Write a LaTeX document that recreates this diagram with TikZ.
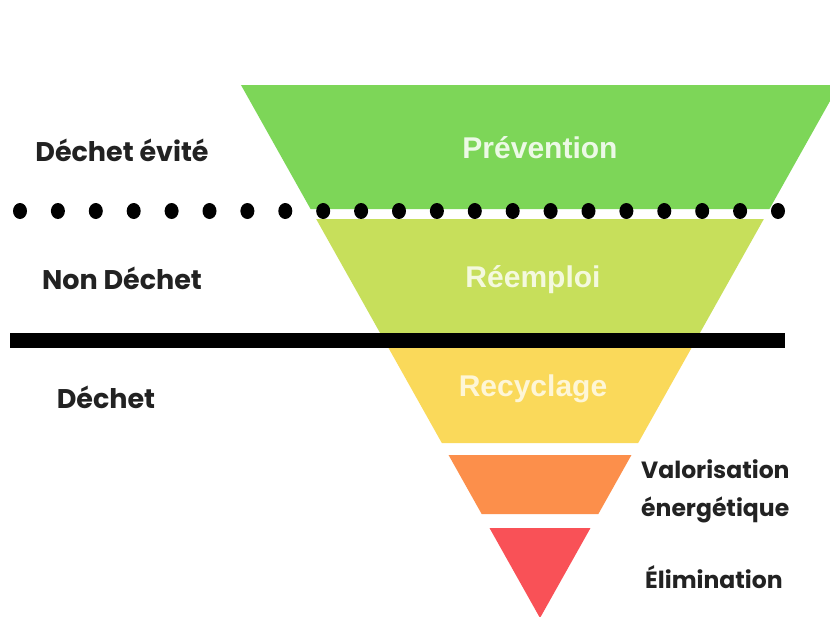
\documentclass[tikz,border=0pt]{standalone}
\usepackage{fontspec}
\setmainfont{Poppins}
\newfontfamily\bandfont{Liberation Sans}
\usetikzlibrary{positioning}
\definecolor{prevgreen}{HTML}{7DD658}
\definecolor{reusegreen}{HTML}{C7DF5B}
\definecolor{recycyellow}{HTML}{FAD95A}
\definecolor{valorange}{HTML}{FC8F4B}
\definecolor{elimred}{HTML}{F95157}
\definecolor{labelgray}{HTML}{222222}

\begin{document}
\begin{tikzpicture}[x=1pt,y=-1pt,
    sidelabel/.style={font=\fontsize{27}{30}\selectfont\bfseries, text=labelgray, inner sep=0pt},
    rightlabel/.style={font=\fontsize{23.5}{38}\selectfont\bfseries, text=labelgray, inner sep=0pt, anchor=west, align=left},
    bandlabel/.style={font=\bandfont\fontsize{30}{32}\selectfont\bfseries, inner sep=0pt}]
    \useasboundingbox[fill=white] (0,0) rectangle (830,616);
    \clip (0,0) rectangle (830,616);
    % Bands of the inverted triangle
    \foreach \ya/\yb/\col in {85/209/prevgreen, 219/341/reusegreen, 346/443/recycyellow, 455/514/valorange, 528/618/elimred} {
        \fill[\col] ({540-0.561*(618-\ya)},\ya) -- ({540+0.561*(618-\ya)},\ya)
            -- ({540+0.561*(618-\yb)},\yb) -- ({540-0.561*(618-\yb)},\yb) -- cycle;
    }
    % Dotted border
    \foreach \i in {0,...,20} {
        \fill[black] ({20+37.9*\i},211) ellipse (7 and 8);
    }
    % Solid border
    \fill[black] (10,333) rectangle (785,348);
    % Band labels
    \node[bandlabel, text=white!85!prevgreen] (prevention) at (540,148) {Prévention};
    \node[bandlabel, text=white!80!reusegreen] (reemploi) at (533,280) {Réemploi};
    \node[bandlabel, text=white!75!recycyellow] (recyclage) at (533,389) {Recyclage};
    % Side labels
    \node[sidelabel] (evite) at (122,150) {Déchet évité};
    \node[sidelabel] (nondechet) at (122,278) {Non Déchet};
    \node[sidelabel] (dechet) at (106,397) {Déchet};
    \node[rightlabel] (valorisation) at (641,491) {Valorisation\\énergétique};
    \node[rightlabel] (elimination) at (645,577) {Élimination};
\end{tikzpicture}
\end{document}
